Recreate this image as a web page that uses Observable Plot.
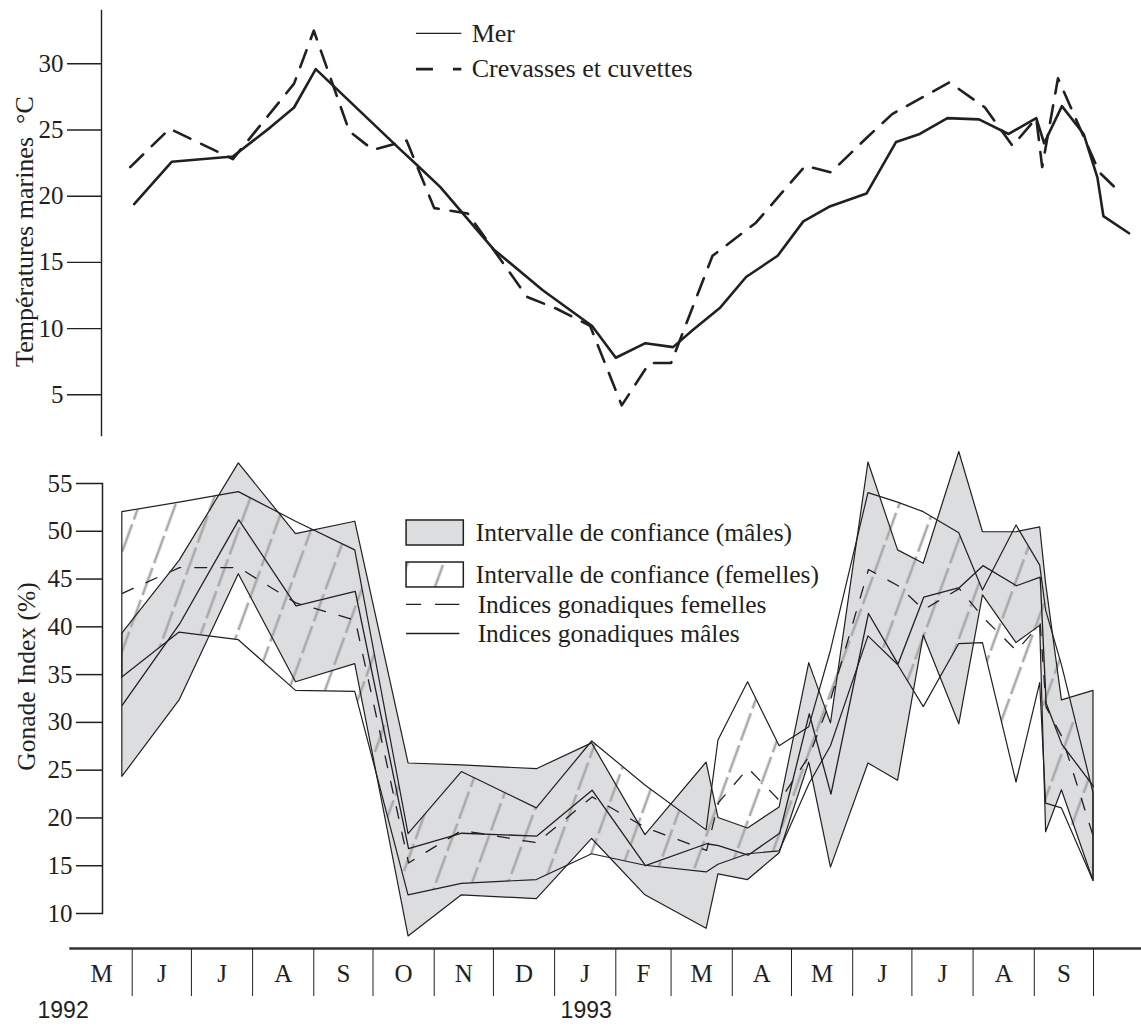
<!DOCTYPE html>
<html>
<head>
<meta charset="utf-8">
<script src="https://cdn.jsdelivr.net/npm/d3@7"></script>
<script src="https://cdn.jsdelivr.net/npm/@observablehq/plot@0.6"></script>
<style>
  body { margin: 0; background: #fff; }
  #chart { width: 1141px; height: 1029px; overflow: hidden; }
  #chart svg { display: block; }
</style>
</head>
<body>
<div id="chart"></div>
<script>
// ---------------- DATA ----------------
// Top panel: sea temperatures (°C)
const merDates = ["1992-06-02","1992-06-21","1992-07-22","1992-08-10","1992-08-22","1992-09-02","1992-10-15","1992-10-23","1992-11-04","1992-12-01","1992-12-26","1993-01-20","1993-02-01","1993-02-16","1993-03-02","1993-03-12","1993-03-26","1993-04-08","1993-04-24","1993-05-07","1993-05-20","1993-06-08","1993-06-23","1993-07-05","1993-07-19","1993-08-04","1993-08-19","1993-09-02","1993-09-06","1993-09-15","1993-09-26","1993-10-03","1993-10-06","1993-10-19"];
const merTemp = [19.4,22.6,23.0,25.2,26.7,29.6,23.5,22.4,20.7,16.0,12.9,10.2,7.8,8.9,8.6,9.9,11.6,13.9,15.5,18.1,19.2,20.2,24.1,24.7,25.9,25.8,24.7,25.9,24.0,26.8,24.7,21.4,18.5,17.2];

const crevDates = ["1992-05-31","1992-06-20","1992-07-22","1992-08-09","1992-08-22","1992-09-01","1992-09-19","1992-10-01","1992-10-18","1992-11-01","1992-11-18","1992-12-18","1993-01-02","1993-01-19","1993-02-04","1993-02-18","1993-03-01","1993-03-22","1993-04-13","1993-05-08","1993-05-21","1993-06-08","1993-06-21","1993-07-20","1993-08-07","1993-08-21","1993-09-02","1993-09-05","1993-09-13","1993-10-04","1993-10-15"];
const crevTemp = [22.2,25.1,22.8,26.1,28.5,32.5,24.9,23.5,24.2,19.1,18.7,12.4,11.5,10.2,4.2,7.4,7.4,15.5,18.0,22.3,21.8,24.4,26.2,28.6,26.7,23.8,25.9,22.2,28.9,21.8,20.2];

// Bottom panel: gonad indices (%)
const gonadDates = ["1992-05-27","1992-06-25","1992-07-25","1992-08-23","1992-09-22","1992-10-19","1992-11-15","1992-12-23","1993-01-20","1993-02-16","1993-03-19","1993-03-25","1993-04-09","1993-04-25","1993-05-10","1993-05-21","1993-06-09","1993-06-24","1993-07-07","1993-07-25","1993-08-06","1993-08-23","1993-09-04","1993-09-07","1993-09-15","1993-10-01"];
const maleUpper   = [39.3,46.9,57.1,49.7,51.0,25.7,25.5,25.1,27.8,18.2,25.8,20.0,18.9,21.1,36.2,29.9,57.2,48.0,46.6,58.3,49.9,49.9,50.4,44.5,32.3,33.3];
const maleIndex   = [31.8,40.3,51.2,42.2,43.7,16.8,18.4,18.1,22.9,15.0,17.3,17.1,16.1,18.4,30.9,22.5,41.4,36.1,43.1,44.1,46.4,44.3,45.2,32.0,27.7,23.3];
const maleLower   = [24.3,32.3,45.5,34.2,36.1,7.6,11.9,11.5,17.8,11.9,8.4,14.1,13.5,16.3,25.8,14.8,25.7,23.9,39.1,29.8,43.3,38.3,40.1,18.5,22.9,13.4];
const femaleUpper = [52.0,53.0,54.1,51.0,48.0,18.3,24.8,21.0,28.0,23.4,18.7,28.1,34.2,27.5,29.5,37.5,54.0,53.0,52.0,49.8,43.8,50.6,46.4,41.7,36.0,22.6];
const femaleIndex = [43.5,46.2,46.2,42.5,40.7,15.3,18.7,17.4,22.2,19.0,16.6,21.6,25.2,21.8,26.5,32.5,46.0,44.3,41.8,44.0,41.0,37.5,40.3,31.6,28.5,18.0];
const femaleLower = [34.7,39.4,38.6,33.3,33.2,11.9,13.1,13.5,16.2,15.0,14.3,15.1,16.2,16.5,23.5,27.5,39.0,36.0,31.6,38.2,38.3,23.7,34.1,21.5,21.0,13.4];

// Axes / labels
const tempTicks = [5,10,15,20,25,30];
const gonadTicks = [10,15,20,25,30,35,40,45,50,55];
const monthLabels = ["M","J","J","A","S","O","N","D","J","F","M","A","M","J","J","A","S"];
const yearLabels = ["1992","1993"];
const yearDates = ["1992-04-27","1993-01-17"];
const tempTitle = "Températures marines\u00a0\u00a0°C";
const gonadTitle = "Gonade Index (%)";
const topLegendLabels = ["Mer","Crevasses et cuvettes"];
const topLegendY = [32.3, 29.6];
const bottomLegendLabels = ["Intervalle de confiance (mâles)","Intervalle de confiance (femelles)","Indices gonadiques femelles","Indices gonadiques mâles"];

// ---------------- BUILD ----------------
const INK = "#231f20";
const SERIF = "'Liberation Serif','Times New Roman',Times,serif";
const parse = d3.utcParse("%Y-%m-%d");
const xDomain = [parse("1992-05-01"), parse("1993-10-01")];
const xRange = [70.5, 1093];

const mer = merDates.map((d, i) => ({date: parse(d), t: merTemp[i]}));
const crev = crevDates.map((d, i) => ({date: parse(d), t: crevTemp[i]}));
const gonad = gonadDates.map((d, i) => ({
  date: parse(d), mU: maleUpper[i], mM: maleIndex[i], mL: maleLower[i],
  fU: femaleUpper[i], fM: femaleIndex[i], fL: femaleLower[i]
}));

const topLegend = topLegendLabels.map((label, i) => ({
  label, y: topLegendY[i], x1: parse("1992-10-23"), x2: parse("1992-11-15"), xt: parse("1992-11-20")
}));

const topPlot = Plot.plot({
  width: 1141, height: 440,
  marginLeft: 101, marginTop: 10, marginBottom: 5, marginRight: 0,
  style: {fontFamily: SERIF, fontSize: "25px", color: INK, background: "white", overflow: "visible"},
  x: {type: "utc", domain: xDomain, range: xRange, axis: null},
  y: {domain: [5, 30], range: [394.3, 63.3]},
  marks: [
    Plot.frame({anchor: "left", stroke: INK, strokeWidth: 1.4}),
    Plot.axisY(tempTicks, {anchor: "left", tickSize: 34, tickPadding: 4, label: null, strokeWidth: 1.4, fontSize: 25}),
    Plot.text([tempTitle], {frameAnchor: "left", y: [17.33], rotate: -90, dx: -77,
      textAnchor: "middle", lineAnchor: "middle", fontSize: 26}),
    Plot.line(crev, {x: "date", y: "t", stroke: INK, strokeWidth: 2.6, strokeDasharray: "18,12"}),
    Plot.line(mer, {x: "date", y: "t", stroke: INK, strokeWidth: 2.6}),
    Plot.ruleY(topLegend.slice(0,1), {y: "y", x1: "x1", x2: "x2", stroke: INK, strokeWidth: 1.3}),
    Plot.ruleY(topLegend.slice(1), {y: "y", x1: "x1", x2: "x2", stroke: INK, strokeWidth: 2.8, strokeDasharray: "17,20,10"}),
    Plot.text(topLegend, {x: "xt", y: "y", text: "label", textAnchor: "start", fontSize: 26})
  ]
});

const bottomLegendBoxes = [
  {x1: parse("1992-10-18"), x2: parse("1992-11-16"), y1: 51.13, y2: 48.51, fill: "#dcdddf"},
  {x1: parse("1992-10-18"), x2: parse("1992-11-16"), y1: 46.73, y2: 44.12, fill: "url(#hatch)"}
];
const bottomLegendText = bottomLegendLabels.map((label, i) => ({
  label, x: parse(i < 2 ? "1992-11-22" : "1992-11-23"), y: [49.85, 45.4, 42.3, 39.3][i]
}));
const bottomLegendLines = [
  {x1: parse("1992-10-18"), x2: parse("1992-11-14"), y: 42.34},
  {x1: parse("1992-10-18"), x2: parse("1992-11-14"), y: 39.3}
];

const bottomPlot = Plot.plot({
  width: 1141, height: 500,
  marginLeft: 102, marginTop: 43, marginBottom: 27, marginRight: 0,
  style: {fontFamily: SERIF, fontSize: "25px", color: INK, background: "white", overflow: "visible"},
  x: {type: "utc", domain: xDomain, range: xRange, axis: null},
  y: {domain: [10, 55], range: [473, 43]},
  marks: [
    Plot.areaY(gonad, {x: "date", y1: "mL", y2: "mU", fill: "#dcdddf"}),
    Plot.areaY(gonad, {x: "date", y1: "fL", y2: "fU", fill: "url(#hatch)"}),
    Plot.areaY(gonad, {x: "date", y1: "mL", y2: "mU", fill: "none", stroke: INK, strokeWidth: 1.2}),
    Plot.areaY(gonad, {x: "date", y1: "fL", y2: "fU", fill: "none", stroke: INK, strokeWidth: 1.2}),
    Plot.line(gonad, {x: "date", y: "fM", stroke: INK, strokeWidth: 1.3, strokeDasharray: "12,14"}),
    Plot.line(gonad, {x: "date", y: "mM", stroke: INK, strokeWidth: 1.3}),
    Plot.frame({anchor: "left", stroke: INK, strokeWidth: 1.5}),
    Plot.axisY(gonadTicks, {anchor: "left", tickSize: 26, tickPadding: 4, label: null, strokeWidth: 1.5, fontSize: 25}),
    Plot.text([gonadTitle], {frameAnchor: "left", y: [34.8], rotate: -90, dx: -76,
      textAnchor: "middle", lineAnchor: "middle", fontSize: 25.5}),
    Plot.rect(bottomLegendBoxes, {x1: "x1", x2: "x2", y1: "y1", y2: "y2", fill: "fill", stroke: INK, strokeWidth: 1.5}),
    Plot.ruleY(bottomLegendLines.slice(0,1), {y: "y", x1: "x1", x2: "x2", stroke: INK, strokeWidth: 1.3, strokeDasharray: "15,14,26"}),
    Plot.ruleY(bottomLegendLines.slice(1), {y: "y", x1: "x1", x2: "x2", stroke: INK, strokeWidth: 1.3}),
    Plot.text(bottomLegendText, {x: "x", y: "y", text: "label", textAnchor: "start", fontSize: 25.5})
  ]
});

// hatch pattern for the female confidence interval
const defs = d3.select(bottomPlot).insert("defs", ":first-child");
const pat = defs.append("pattern")
  .attr("id", "hatch")
  .attr("patternUnits", "userSpaceOnUse")
  .attr("width", 34).attr("height", 34)
  .attr("patternTransform", "rotate(20)");
pat.append("line")
  .attr("x1", 17).attr("x2", 17).attr("y1", 0).attr("y2", 34)
  .attr("stroke", "#a9a9a9").attr("stroke-width", 2.6)
  .attr("stroke-dasharray", "29,5");

// Month axis
const months = d3.utcMonths(xDomain[0], xDomain[1]);
const monthEnds = months.map(m => d3.utcMonth.offset(m, 1));
const monthMids = months.map(m => new Date((+m + +d3.utcMonth.offset(m, 1)) / 2));
const years = yearLabels.map((label, i) => ({label, date: parse(yearDates[i])}));

const axisPlot = Plot.plot({
  width: 1141, height: 89,
  marginLeft: 70, marginTop: 8, marginBottom: 0, marginRight: 0,
  style: {fontFamily: SERIF, fontSize: "25px", color: INK, background: "white", overflow: "visible"},
  x: {type: "utc", domain: xDomain, range: xRange},
  marks: [
    Plot.frame({anchor: "top", stroke: "#333", strokeWidth: 2.4}),
    Plot.axisX(monthEnds, {anchor: "top", tickSize: -47, tickFormat: () => "", strokeWidth: 1, label: null}),
    Plot.text(monthMids, {x: d => d, frameAnchor: "top", dy: 25, lineAnchor: "middle",
      text: (d, i) => monthLabels[i], fontSize: 25}),
    Plot.text(years, {x: "date", frameAnchor: "top", dy: 62, lineAnchor: "middle", textAnchor: "middle",
      text: "label", fontSize: 23,
      fontFamily: "'Liberation Sans Narrow','Liberation Sans',Arial,sans-serif"})
  ]
});

const chart = document.getElementById("chart");
chart.append(topPlot, bottomPlot, axisPlot);
</script>
</body>
</html>
